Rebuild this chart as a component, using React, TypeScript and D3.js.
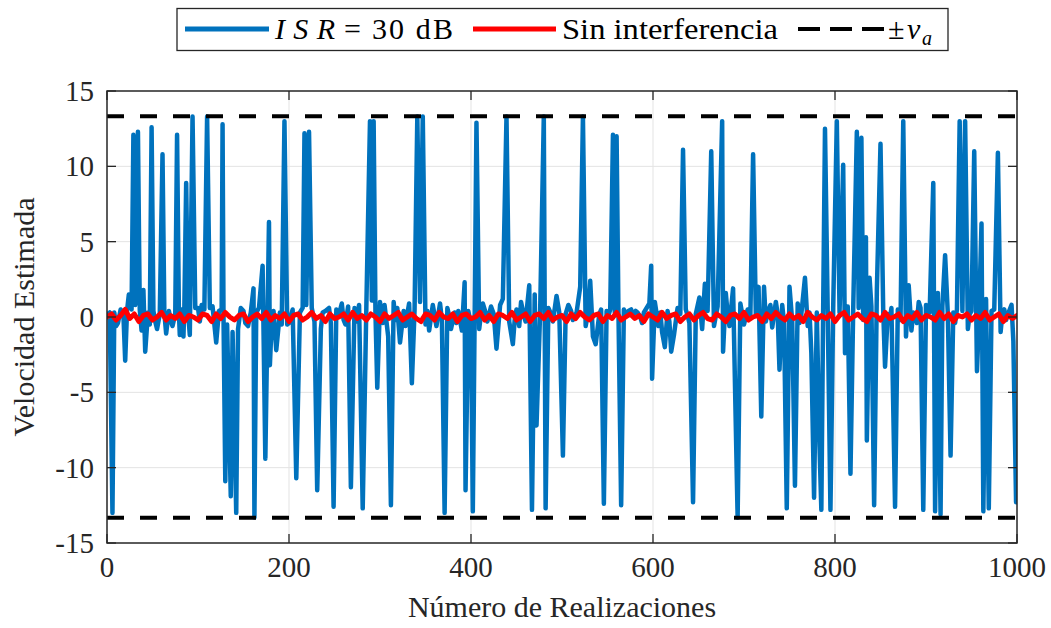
import React from 'react';
import * as d3 from 'd3';

// ---------------- data ----------------
const X_TICKS = [0, 200, 400, 600, 800, 1000];
const Y_TICKS = [-15, -10, -5, 0, 5, 10, 15];
const Y_TICK_LABELS = ['-15', '-10', '-5', '0', '5', '10', '15'];
const V_A = 13.33;

// ISR = 30 dB : [realization index, estimated velocity]
const BLUE_SERIES: [number, number][] = [
  [1, 0.2], [3, 0.3], [6, -13.0], [8, 0.3], [10, -0.6], [12, -0.4], [15, 0.5], [18, 0.2], [20, -2.9], [22, 0.4], [24, 1.5],
  [27, 0.5], [29, 12.1], [31, 0.8], [34, 12.3], [36, 0.5], [38, -0.9], [40, 1.8], [42, -2.3], [45, 0.3], [47, -0.5],
  [49, 12.6], [51, 0.4], [53, -0.3], [55, -0.8], [58, 0.2], [61, 10.8], [63, 0.3], [65, -1.1], [68, 0.4], [70, -0.2], [72, -0.6], [75, 0.2],
  [77, 12.1], [79, 0.3], [80, -1.2], [82, 0.5], [84, -1.3], [85, 0.6], [87, 8.9], [89, 0.4], [91, -1.2], [94, 13.3],
  [97, 0.6], [100, 0.6], [102, -0.3], [104, 0.8], [107, 0.5], [110, 13.3], [113, 0.6], [116, 0.7], [120, -1.7], [123, 0.4], [126, 0.5],
  [127, 12.8], [128, 0.3], [130, -10.9], [132, -0.5], [136, -11.9], [138, -1.0], [142, -13.0], [144, -0.8], [147, 0.6], [150, 0.4],
  [152, -0.4], [155, -0.6], [158, 0.3], [161, 1.9], [162, -13.3], [164, 0.3], [167, 0.6], [171, 3.4], [174, -9.4], [178, 6.3], [179, -3.2],
  [181, -0.3], [183, 0.4], [186, -2.2], [190, 0.3], [192, -0.5], [195, 13.0], [198, -0.5], [200, -0.4], [204, 0.5], [208, -10.7], [212, 0.3], [215, 0.6],
  [217, 12.2], [219, 0.8], [222, 12.3], [225, 0.6], [228, -0.3], [231, -11.5], [235, -0.8], [237, 0.3], [240, 0.4], [244, 0.6], [246, -0.4], [249, -12.6],
  [252, 0.5], [255, 0.2], [258, 0.9], [260, -0.2], [262, -0.5], [265, 0.7], [268, -11.3], [272, 0.6], [274, -0.3], [277, 0.8], [281, -12.7], [285, 0.7],
  [289, 13.0], [291, 1.1], [293, 13.0], [295, 0.3], [297, -4.7], [300, 1.0], [303, -0.4], [305, 0.8], [309, -1.3], [312, -12.5],
  [315, 1.0], [317, -0.2], [319, 0.6], [322, -1.7], [326, 0.4], [328, -0.6], [330, 0.2], [332, 0.9], [335, -4.4], [338, 0.5], [341, 13.3], [344, 1.0],
  [347, 13.3], [350, -0.5], [352, 0.4], [354, -0.9], [358, 0.8], [360, 0.1], [362, -0.6], [366, 0.9], [368, -0.2], [371, -13.0], [374, 0.6], [376, 0.1], [378, -0.8],
  [382, 0.3], [384, -0.4], [386, 0.4], [390, -0.9], [393, 2.3], [394, -11.5], [397, 0.4], [400, -0.5], [402, -12.9], [406, 12.9], [409, -0.8],
  [411, 0.2], [413, 0.9], [416, 0.3], [418, -0.3], [422, 0.7], [425, 0.2], [428, -2.1], [432, 0.8], [435, 1.2], [439, 13.3], [442, -0.3], [446, -1.8],
  [448, -0.2], [450, 0.5], [453, -0.6], [455, 1.0], [458, 0.1], [460, -0.3], [464, 2.1], [467, -12.8], [470, 1.5], [472, -7.2], [476, 0.4], [480, 13.3],
  [482, -12.7], [485, 0.6], [488, 0.2], [490, -0.3], [494, 1.4], [497, 0.3], [501, -9.2], [504, 0.2], [507, 0.8], [510, 0.4], [512, -0.2], [516, 0.3],
  [520, 2.0], [523, 13.3], [526, -0.6], [529, 0.4], [531, 2.4], [534, -1.3], [537, -1.8], [541, 0.2], [543, 0.5], [546, -12.4], [549, 0.4],
  [551, 0.1], [553, 0.5], [556, 12.1], [558, 0.3], [560, 12.0], [562, 0.5], [565, -12.5], [568, 0.5], [570, 0.2], [573, 0.4], [576, 0.5], [578, 0.1], [581, 0.4], [583, 0.3],
  [586, 0.0], [588, -0.4], [590, 0.3], [592, 0.5], [596, 0.9], [598, 3.4], [599, -4.1], [602, 1.0], [606, -0.6], [608, 0.3], [610, -1.0], [613, -2.0], [616, 0.4],
  [618, -0.3], [620, -2.3], [623, -1.2], [627, 0.6], [630, 0.2], [633, 11.1], [636, 0.5], [638, 0.1], [640, -0.4], [644, -12.3], [647, 0.2], [651, 1.3],
  [654, -0.8], [657, 2.2], [660, 0.4], [664, 11.0], [667, -0.6], [671, 0.7], [676, 13.0], [677, -2.3], [680, 1.6], [682, 0.2], [684, -0.6],
  [688, 1.9], [693, -13.3], [696, 0.9], [698, 0.2], [700, -0.5], [704, 0.5], [707, 0.1], [710, 10.8], [713, 0.2], [716, 2.0], [719, -6.6],
  [722, 2.0], [724, -0.3], [726, 0.3], [729, 0.8], [731, -0.7], [735, 1.0], [737, 0.2], [739, -3.5], [742, 0.8], [744, -0.4], [747, -12.7], [750, 2.0], [753, -0.3], [756, -11.2],
  [759, 0.9], [761, -0.4], [763, 0.2], [767, 2.6], [770, -0.6], [772, 0.3], [774, -2.4], [777, -12.0], [780, 0.3], [783, -8.6], [785, -12.8], [787, 0.6],
  [789, 12.5], [792, 0.4], [795, -12.8], [798, 0.6], [802, 13.0], [805, 0.3], [809, 10.1], [811, -2.4], [814, 0.7], [817, -10.4],
  [820, 0.5], [824, 12.3], [826, 0.6], [829, 11.9], [831, -0.2], [834, 5.3], [835, -8.2], [838, 2.6], [840, 0.7], [843, -12.5],
  [846, 1.8], [850, 11.5], [853, 0.4], [855, -3.3], [858, 0.2], [860, -0.3], [862, 0.6], [866, -12.6], [869, 0.5], [872, -0.2], [875, 13.0],
  [878, -1.3], [881, 2.1], [884, -0.9], [886, 0.3], [888, 0.2], [890, -0.4], [892, 1.0], [894, 0.6], [897, -12.8], [900, 0.8], [904, 0.3], [908, 8.9],
  [910, -12.9], [913, 1.6], [916, -13.1], [918, 0.7], [921, 4.1], [924, 0.2], [927, -9.2], [930, 0.3], [932, -0.4], [934, 0.5], [937, 13.0],
  [940, 0.4], [943, 13.0], [946, -0.8], [948, 0.2], [950, 0.4], [953, 11.0], [956, -3.6], [958, -0.5], [961, 6.2], [963, -12.9], [966, 1.2],
  [969, -12.7], [972, 0.4], [975, 0.5], [979, 10.9], [982, -1.0], [984, 0.3], [986, 0.5], [988, -0.2], [990, 0.2], [992, 0.5], [994, 0.8], [996, -1.6], [999, -12.3],
];

// Sin interferencia : values sampled evenly from realization 0 to 1000
const RED_SERIES = [
  0.0, 0.2, -0.2, 0.1, 0.5, -0.1, 0.2, -0.3, 0.1, 0.2, -0.2, 0.0, 0.3, -0.2, 0.1, -0.1, 0.2, -0.3, 0.1, 0.0,
  -0.2, 0.2, 0.1, -0.3, 0.2, -0.1, 0.3, 0.0, -0.2, 0.1, 0.2, -0.3, 0.0, 0.2, -0.1, 0.3, -0.2, 0.1, -0.1, 0.2,
  -0.3, 0.1, 0.2, -0.2, 0.0, 0.3, -0.1, 0.1, -0.3, 0.2, -0.1, 0.0, 0.2, -0.2, 0.3, -0.1, 0.1, -0.2, 0.2, 0.0,
  -0.3, 0.2, -0.1, 0.1, 0.3, -0.2, 0.0, 0.2, -0.1, -0.3, 0.2, 0.1, -0.2, 0.3, 0.0, -0.1, 0.2, -0.3, 0.1, 0.2,
  -0.1, 0.0, 0.3, -0.2, 0.1, -0.3, 0.2, 0.1, -0.1, 0.3, -0.2, 0.0, 0.2, -0.3, 0.1, 0.2, -0.1, 0.3, -0.2, 0.0,
  0.1, -0.3, 0.2, -0.1, 0.3, 0.0, -0.2, 0.1, 0.2, -0.3, 0.1, -0.1, 0.3, -0.2, 0.0, 0.2, -0.1, 0.1, -0.3, 0.2,
  0.0, -0.2, 0.3, -0.1, 0.1, 0.2, -0.3, 0.0, 0.2, -0.2, 0.1, 0.3, -0.1, -0.2, 0.2, 0.0, -0.3, 0.1, 0.2, -0.1,
  0.3, -0.2, 0.0, 0.1, -0.3, 0.2, -0.1, 0.3, 0.0, -0.2, 0.2, -0.1, 0.1, -0.3, 0.3, 0.0, -0.2, 0.1, -0.1, 0.2,
  -0.3, 0.1, 0.3, -0.2, 0.0, 0.2, -0.1, -0.3, 0.2, 0.1, -0.2, 0.3, -0.1, 0.0, 0.2, -0.3, 0.1, -0.1, 0.3, -0.2,
  0.1, 0.0, -0.2, 0.3, -0.1, 0.2, -0.3, 0.1, 0.0, 0.2, -0.2, 0.1, -0.1, 0.3, -0.2, 0.0, 0.2, -0.3, 0.1, -0.1,
  0.1,
];

// ---------------- layout ----------------
const W = 1051;
const H = 628;
const M = { left: 107, right: 1017, top: 91, bottom: 543 };
const FONT = '"Liberation Serif", "Times New Roman", serif';
const BLUE = '#0072BD';
const RED = '#FF0000';

export default function App() {
  const x = d3.scaleLinear().domain([0, 1000]).range([M.left, M.right]);
  const y = d3.scaleLinear().domain([-15, 15]).range([M.bottom, M.top]);

  const blueLine = d3
    .line<[number, number]>()
    .x((d) => x(d[0]))
    .y((d) => y(d[1]));
  const redStep = 1000 / (RED_SERIES.length - 1);
  const redLine = d3
    .line<number>()
    .x((_, i) => x(i * redStep))
    .y((d) => y(d));

  const tickLen = 9;
  const axisColor = '#262626';
  const gridColor = '#e3e3e3';

  return (
    <svg
      width={W}
      height={H}
      style={{ position: 'absolute', left: 0, top: 0, background: '#fff' }}
      fontFamily={FONT}
    >
      <defs>
        <clipPath id="plotClip">
          <rect x={M.left} y={M.top} width={M.right - M.left} height={M.bottom - M.top} />
        </clipPath>
      </defs>
      <rect x={0} y={0} width={W} height={H} fill="#fff" />

      {/* grid */}
      {X_TICKS.slice(1, -1).map((t) => (
        <line key={'gx' + t} x1={x(t)} x2={x(t)} y1={M.top} y2={M.bottom} stroke={gridColor} strokeWidth={1} />
      ))}
      {Y_TICKS.slice(1, -1).map((t) => (
        <line key={'gy' + t} x1={M.left} x2={M.right} y1={y(t)} y2={y(t)} stroke={gridColor} strokeWidth={1} />
      ))}

      {/* data */}
      <g clipPath="url(#plotClip)">
        <path d={blueLine(BLUE_SERIES) || ''} fill="none" stroke={BLUE} strokeWidth={4.5} strokeLinejoin="round" strokeLinecap="round" />
        <path d={redLine(RED_SERIES) || ''} fill="none" stroke={RED} strokeWidth={5} strokeLinejoin="round" strokeLinecap="round" />
        <line x1={x(0)} x2={x(1000)} y1={y(V_A)} y2={y(V_A)} stroke="#000" strokeWidth={4} strokeDasharray="17,16" />
        <line x1={x(0)} x2={x(1000)} y1={y(-V_A)} y2={y(-V_A)} stroke="#000" strokeWidth={4} strokeDasharray="17,16" />
      </g>

      {/* axes box & ticks */}
      <rect x={M.left} y={M.top} width={M.right - M.left} height={M.bottom - M.top} fill="none" stroke={axisColor} strokeWidth={1.5} />
      {X_TICKS.map((t) => (
        <g key={'xt' + t}>
          <line x1={x(t)} x2={x(t)} y1={M.bottom} y2={M.bottom - tickLen} stroke={axisColor} strokeWidth={1.3} />
          <line x1={x(t)} x2={x(t)} y1={M.top} y2={M.top + tickLen} stroke={axisColor} strokeWidth={1.3} />
          <text x={x(t)} y={M.bottom + 34} textAnchor="middle" fontSize={29} fill="#262626">
            {t}
          </text>
        </g>
      ))}
      {Y_TICKS.map((t, i) => (
        <g key={'yt' + t}>
          <line x1={M.left} x2={M.left + tickLen} y1={y(t)} y2={y(t)} stroke={axisColor} strokeWidth={1.3} />
          <line x1={M.right} x2={M.right - tickLen} y1={y(t)} y2={y(t)} stroke={axisColor} strokeWidth={1.3} />
          <text x={M.left - 13} y={y(t)} dy="0.35em" textAnchor="end" fontSize={29} fill="#262626">
            {Y_TICK_LABELS[i]}
          </text>
        </g>
      ))}

      {/* axis labels */}
      <text x={(M.left + M.right) / 2} y={617} textAnchor="middle" fontSize={30} fill="#262626">
        Número de Realizaciones
      </text>
      <text
        transform={`translate(34, ${(M.top + M.bottom) / 2}) rotate(-90)`}
        textAnchor="middle"
        fontSize={30}
        fill="#262626"
      >
        Velocidad Estimada
      </text>

      {/* legend */}
      <g>
        <rect x={177} y={8.5} width={771} height={42} fill="#fff" stroke="#262626" strokeWidth={1.3} />
        <line x1={185} x2={269} y1={29} y2={29} stroke={BLUE} strokeWidth={5} />
        <text x={275} y={39} fontSize={30} fill="#000" fontStyle="italic" textLength={60} lengthAdjust="spacing">
          ISR
        </text>
        <text x={344} y={39} fontSize={30} fill="#000">=</text>
        <text x={372} y={39} fontSize={30} fill="#000" textLength={81} lengthAdjust="spacing">30 dB</text>
        <line x1={473} x2={556} y1={29} y2={29} stroke={RED} strokeWidth={5} />
        <text x={562} y={39} fontSize={30} fill="#000" textLength={216} lengthAdjust="spacingAndGlyphs">
          Sin interferencia
        </text>
        <line x1={798} x2={884} y1={29} y2={29} stroke="#000" strokeWidth={4} strokeDasharray="22,10" />
        <text x={888} y={39} fontSize={30} fill="#000">±</text>
        <text x={907} y={39} fontSize={30} fill="#000" fontStyle="italic">v</text>
        <text x={922} y={45} fontSize={20} fill="#000" fontStyle="italic">a</text>
      </g>
    </svg>
  );
}
